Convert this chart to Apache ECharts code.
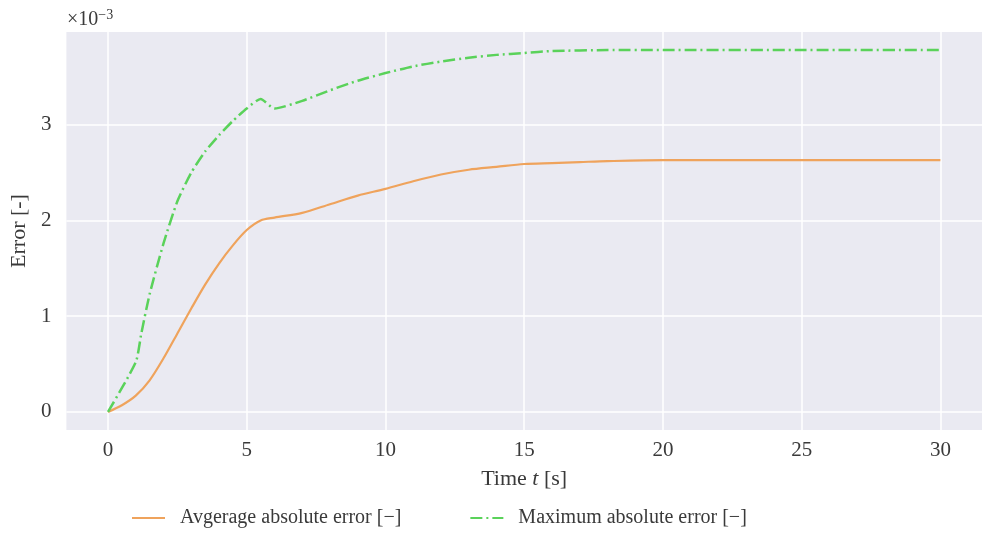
<!DOCTYPE html>
<html>
<head>
<meta charset="utf-8">
<script src="https://cdn.jsdelivr.net/npm/echarts@6/dist/echarts.min.js"></script>
<style>html,body{margin:0;padding:0;background:#fff}#c{width:982px;height:559px}</style>
</head>
<body>
<div id="c"></div>
<script>
// values in units of 1e-3
const avgTime  = [0, 0.5, 1, 1.5, 2, 2.5, 3, 3.5, 4, 4.5, 5, 5.5, 6, 7, 8, 9, 10, 11, 12, 13, 14, 15, 16, 17, 18, 20, 22, 25, 28, 30];
const avgError = [0, 0.07, 0.17, 0.33, 0.56, 0.82, 1.08, 1.33, 1.55, 1.74, 1.9, 2.0, 2.03, 2.08, 2.17, 2.26, 2.33, 2.41, 2.48, 2.53, 2.56, 2.59, 2.6, 2.61, 2.62, 2.63, 2.63, 2.63, 2.63, 2.63];
const maxTime  = [0, 1, 1.2, 1.5, 2, 2.5, 3, 3.5, 4, 4.5, 5, 5.5, 6, 7, 8, 9, 10, 11, 12, 13, 14, 15, 16, 18, 20, 25, 30];
const maxError = [0, 0.52, 0.82, 1.23, 1.76, 2.2, 2.5, 2.72, 2.89, 3.04, 3.17, 3.27, 3.17, 3.25, 3.36, 3.46, 3.54, 3.61, 3.66, 3.7, 3.73, 3.75, 3.77, 3.78, 3.78, 3.78, 3.78];
const xTicks = [0, 5, 10, 15, 20, 25, 30];
const yTicks = [0, 1, 2, 3];
const seriesNames = ['Avgerage absolute error [\u2212]', 'Maximum absolute error [\u2212]'];

const FONT = 'Liberation Serif';
const TXT = '#3a3a3a';

const chart = echarts.init(document.getElementById('c'));
chart.setOption({
  animation: false,
  backgroundColor: '#fff',
  textStyle: { fontFamily: FONT },
  title: {
    text: '\u00d710{sup|\u22123}',
    left: 62, top: 3,
    textStyle: { fontFamily: FONT, fontSize: 20, fontWeight: 'normal', color: TXT,
      rich: { sup: { fontFamily: FONT, fontSize: 14, color: TXT, verticalAlign: 'top', padding: [0,0,9,0] } } }
  },
  grid: { left: 65, right: -7, top: 32, bottom: 129, show: true, backgroundColor: '#EAEAF2', borderWidth: 0 },
  legend: {
    data: seriesNames,
    top: 503, left: 126,
    itemWidth: 33, itemHeight: 14, itemGap: 68,
    itemStyle: { opacity: 0 },
    formatter: name => '  ' + name,
    textStyle: { fontFamily: FONT, fontSize: 20, color: TXT },
  },
  xAxis: {
    type: 'value', min: -1.5, max: 31.5,
    name: 'Time {i|t} [s]', nameLocation: 'middle', nameGap: 38,
    nameTextStyle: { fontFamily: FONT, fontSize: 22, color: TXT, rich: { i: { fontFamily: FONT, fontStyle: 'italic', fontSize: 22, color: TXT } } },
    axisLine: { show: false }, axisTick: { show: false, customValues: xTicks },
    axisLabel: { customValues: xTicks, fontFamily: FONT, fontSize: 21, color: TXT, margin: 10 },
    splitLine: { show: true, customValues: xTicks, lineStyle: { color: '#fff', width: 1.5 } }
  },
  yAxis: {
    type: 'value', min: -0.189, max: 3.969,
    name: 'Error [-]', nameLocation: 'middle', nameGap: 28,
    nameTextStyle: { fontFamily: FONT, fontSize: 22, color: TXT },
    axisLine: { show: false }, axisTick: { show: false, customValues: yTicks },
    axisLabel: { customValues: yTicks, fontFamily: FONT, fontSize: 21, color: TXT, margin: 15 },
    splitLine: { show: true, customValues: yTicks, lineStyle: { color: '#fff', width: 1.5 } }
  },
  series: [
    { name: seriesNames[0], type: 'line', symbol: 'none', smooth: 0.3,
      data: avgTime.map((t, i) => [t, avgError[i]]),
      itemStyle: { color: '#EFA35C' },
      lineStyle: { color: '#EFA35C', width: 2.2 } },
    { name: seriesNames[1], type: 'line', symbol: 'none', smooth: 0.2,
      data: maxTime.map((t, i) => [t, maxError[i]]),
      itemStyle: { color: '#5AD25A' },
      lineStyle: { color: '#5AD25A', width: 2.5, type: [12, 4, 2, 4] } }
  ]
});
</script>
</body>
</html>
